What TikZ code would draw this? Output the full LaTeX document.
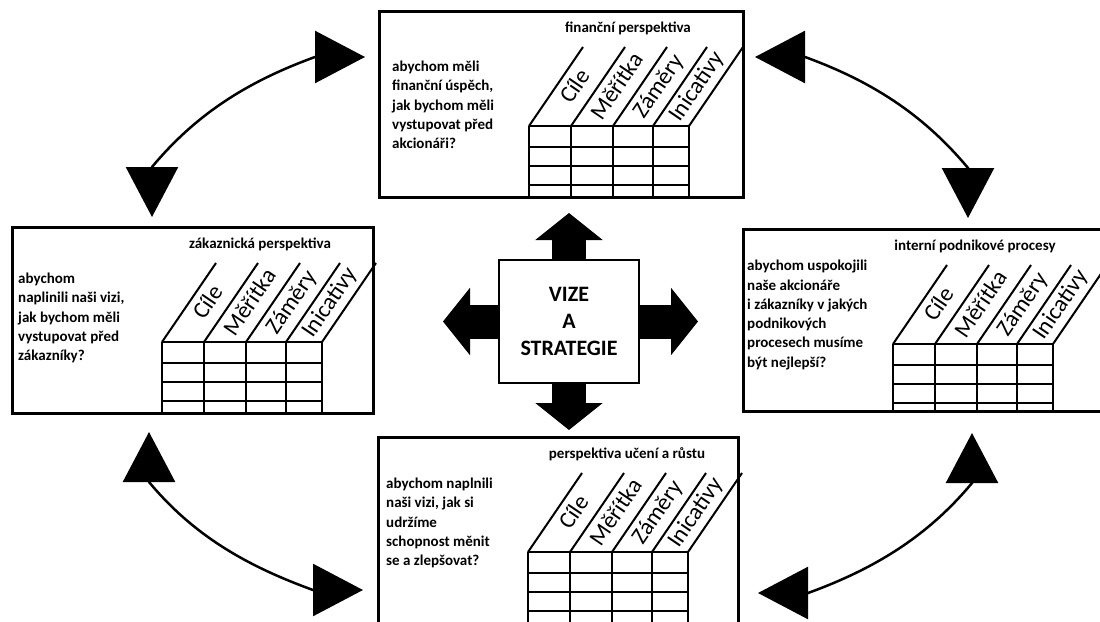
\documentclass[tikz,border=0pt]{standalone}
\usepackage{fontspec}
\setmainfont{Carlito}
\usetikzlibrary{arrows.meta}

\tikzset{
  panel/.style={draw, line width=3pt, outer sep=0pt, inner sep=0pt},
  grid/.style={line width=2pt},
  heading/.style={anchor=base, inner sep=0pt, font=\fontsize{15}{19}\selectfont\bfseries},
  question/.style={anchor=west, align=left, inner sep=0pt, font=\fontsize{15}{19.3}\selectfont\bfseries},
  colhead/.style={rotate=55.7, inner sep=0pt, text height=17pt, text depth=5pt, font=\fontsize{23.5}{27}\selectfont},
  block/.style={line width=34pt, -{Triangle[length=27pt,width=66pt]}},
  curved/.style={line width=2.5pt, {Triangle[length=50pt,width=52pt]}-{Triangle[length=50pt,width=52pt]}}
}

\begin{document}
\begin{tikzpicture}[x=1pt,y=-1pt]
  \clip (0,0) rectangle (1100,621);
  \node[panel, minimum width=364pt, minimum height=186pt] (fin) at (561,104) {};
  \node[panel, minimum width=361pt, minimum height=186pt] (zak) at (192.5,320) {};
  \node[panel, minimum width=370pt, minimum height=182pt] (int) at (928,320) {};
  \node[panel, minimum width=360pt, minimum height=200pt] (rust) at (558,537) {};
  \node[panel, line width=2.5pt, minimum width=140pt, minimum height=123pt, align=center,
        font=\fontsize{22}{27}\selectfont\bfseries] (vize) at (569,321.5) {VIZE\\A\\STRATEGIE};

  \draw[block] (vize.north) -- (569,213);
  \draw[block] (vize.south) -- (569,430);
  \draw[block] (vize.east) -- (698,321.5);
  \draw[block] (vize.west) -- (443,321.5);

  \foreach \p/\h/\tx/\qx/\qy/\ttl/\qtext in {
    fin/186/249/13/94/{finanční perspektiva}/{abychom měli\\finanční úspěch,\\jak bychom měli\\vystupovat před\\akcionáři?},
    zak/186/248/6/91/{zákaznická perspektiva}/{abychom\\naplinili naši vizi,\\jak bychom měli\\vystupovat před\\zákazníky?},
    int/182/232/4/86/{interní podnikové procesy}/{abychom uspokojili\\naše akcionáře\\i zákazníky v jakých\\podnikových\\procesech musíme\\být nejlepší?},
    rust/200/249/8/86/{perspektiva učení a růstu}/{abychom naplnili\\naši vizi, jak si\\udržíme\\schopnost měnit\\se a zlepšovat?}}{
    \begin{scope}[shift={(\p.north west)}]
      \node[heading] at (\tx,21) {\ttl};
      \node[question] at (\qx,\qy) {\qtext};
      \foreach \cx in {0,42,84,124,160} {
        \draw[grid] (150+\cx,115) -- (150+\cx,\h);
        \draw[grid] (150+\cx,115) -- ++(54,-79);
      }
      \foreach \ry in {0,21,40,59}
        \draw[grid] (150,115+\ry) -- (310,115+\ry);
      \foreach \cx/\w/\lab in {0/42/Cíle, 42/42/Měřítka, 84/40/Záměry, 124/36/Inicativy}
        \node[colhead] at (176+\cx+\w/2,76) {\lab};
    \end{scope}
  }

  \coordinate (tl-zak) at (152,217);
  \coordinate (tl-fin) at (365,57);
  \coordinate (tr-fin) at (755,57);
  \coordinate (tr-int) at (968,218);
  \coordinate (bl-zak) at (149,432);
  \coordinate (bl-rust) at (363,590);
  \coordinate (br-int) at (972,433);
  \coordinate (br-rust) at (758,593);

  \draw[curved] (tl-zak) -- ++(0,-50) .. controls +(45,-54) and +(-66,24) .. ([shift={(-50,0)}]tl-fin) -- (tl-fin);
  \draw[curved] (tr-fin) -- ++(50,0) .. controls +(66,24) and +(-45,-54) .. ([shift={(0,-50)}]tr-int) -- (tr-int);
  \draw[curved] (bl-zak) -- ++(0,50) .. controls +(45,54) and +(-66,-24) .. ([shift={(-50,0)}]bl-rust) -- (bl-rust);
  \draw[curved] (br-int) -- ++(0,50) .. controls +(-45,54) and +(66,-24) .. ([shift={(50,0)}]br-rust) -- (br-rust);
\end{tikzpicture}
\end{document}
